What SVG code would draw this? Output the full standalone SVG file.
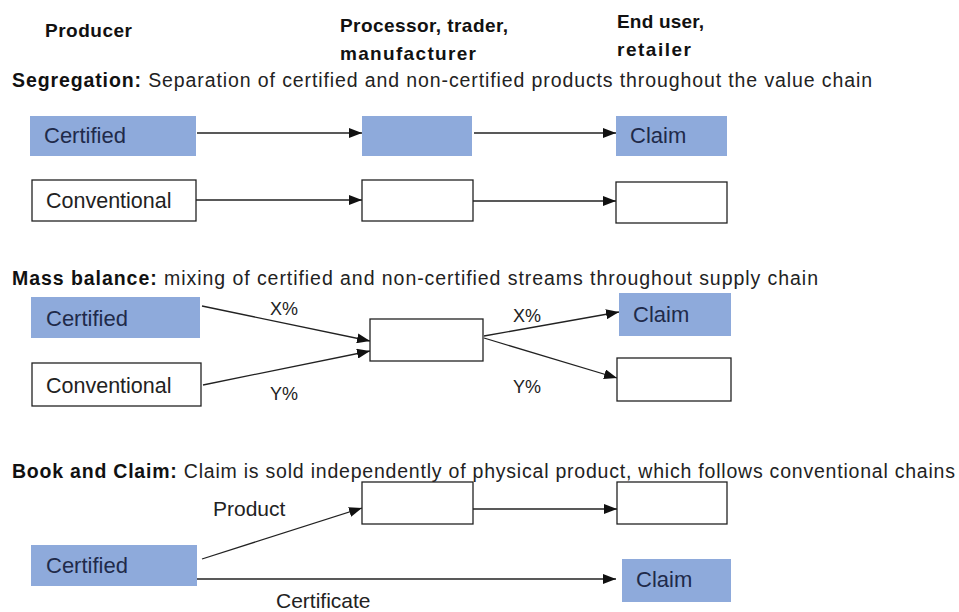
<svg xmlns="http://www.w3.org/2000/svg" width="959" height="612" viewBox="0 0 959 612">
<defs>
<style>
text{font-family:"Liberation Sans",Arial,sans-serif;fill:#222}
.hd{font-weight:bold;font-size:19px;fill:#111}
.ti{font-size:19.5px}
.ti tspan.b{font-weight:bold;fill:#111}
.lb{font-size:21.5px}
.cl{font-size:22px;fill:#1f2a4a}
.pc{font-size:18px}
.pl{font-size:21px}
.cert{fill:#8eaadb;stroke:none}
.conv{fill:#fff;stroke:#222;stroke-width:1.3}
.ln{stroke:#222;stroke-width:1.3;fill:none;marker-end:url(#ah)}
</style>
<marker id="ah" viewBox="0 0 13 10" refX="13" refY="5" markerWidth="13" markerHeight="10" markerUnits="userSpaceOnUse" orient="auto">
<path d="M0,0 L13,5 L0,10 Z" fill="#111"/>
</marker>
</defs>
<rect width="959" height="612" fill="#fff"/>

<g id="headers">
<text class="hd" x="45" y="37" textLength="87">Producer</text>
<text class="hd" x="340" y="32" textLength="168">Processor, trader,</text>
<text class="hd" x="340" y="60" textLength="136">manufacturer</text>
<text class="hd" x="617" y="28" textLength="87">End user,</text>
<text class="hd" x="617" y="56" textLength="74">retailer</text>
</g>

<g id="titles">
<text class="ti" x="12" y="87" textLength="860"><tspan class="b">Segregation:</tspan> Separation of certified and non-certified products throughout the value chain</text>
<text class="ti" x="12" y="285" textLength="806"><tspan class="b">Mass balance:</tspan> mixing of certified and non-certified streams throughout supply chain</text>
<text class="ti" x="12" y="478" textLength="943"><tspan class="b">Book and Claim:</tspan> Claim is sold independently of physical product, which follows conventional chains</text>
</g>

<g id="connectors">
<line class="ln" x1="197" y1="133" x2="362" y2="133"/>
<line class="ln" x1="474" y1="133" x2="616" y2="133"/>
<line class="ln" x1="196" y1="200" x2="362" y2="200"/>
<line class="ln" x1="473" y1="201" x2="616" y2="201"/>
<line class="ln" x1="202" y1="306" x2="370" y2="341"/>
<line class="ln" x1="203" y1="385" x2="370" y2="351"/>
<line class="ln" x1="484" y1="336" x2="619" y2="312"/>
<line class="ln" x1="484" y1="338" x2="617" y2="378"/>
<line class="ln" x1="473" y1="509" x2="617" y2="509"/>
<line class="ln" x1="202" y1="559" x2="362" y2="508"/>
<line class="ln" x1="197" y1="579" x2="616" y2="579"/>
</g>

<g id="edge-labels">
<text class="pc" x="270" y="315">X%</text>
<text class="pc" x="270" y="400">Y%</text>
<text class="pc" x="513" y="322">X%</text>
<text class="pc" x="513" y="393">Y%</text>
<text class="pl" x="213" y="516">Product</text>
<text class="pl" x="276" y="608">Certificate</text>
</g>

<g id="seg-certified"><rect class="cert" x="30" y="116" width="166" height="40"/><text class="cl" x="44" y="143">Certified</text></g>
<g id="seg-processor-certified"><rect class="cert" x="362" y="116" width="110" height="40"/></g>
<g id="seg-claim"><rect class="cert" x="616" y="116" width="111" height="40"/><text class="cl" x="630" y="143">Claim</text></g>
<g id="seg-conventional"><rect class="conv" x="32" y="180" width="164" height="41"/><text class="lb" x="46" y="208">Conventional</text></g>
<g id="seg-processor-conventional"><rect class="conv" x="362" y="180" width="111" height="41"/></g>
<g id="seg-enduser-conventional"><rect class="conv" x="616" y="182" width="111" height="41"/></g>

<g id="mb-certified"><rect class="cert" x="31" y="297" width="169" height="41"/><text class="cl" x="46" y="326">Certified</text></g>
<g id="mb-conventional"><rect class="conv" x="32" y="363" width="169" height="43"/><text class="lb" x="46" y="393">Conventional</text></g>
<g id="mb-processor"><rect class="conv" x="370" y="319" width="113" height="42"/></g>
<g id="mb-claim"><rect class="cert" x="619" y="293" width="112" height="43"/><text class="cl" x="633" y="322">Claim</text></g>
<g id="mb-enduser"><rect class="conv" x="617" y="358" width="114" height="43"/></g>

<g id="bc-processor"><rect class="conv" x="362" y="482" width="111" height="42"/></g>
<g id="bc-enduser"><rect class="conv" x="617" y="482" width="110" height="42"/></g>
<g id="bc-certified"><rect class="cert" x="31" y="545" width="166" height="41"/><text class="cl" x="46" y="573">Certified</text></g>
<g id="bc-claim"><rect class="cert" x="622" y="559" width="109" height="43"/><text class="cl" x="636" y="587">Claim</text></g>
</svg>
